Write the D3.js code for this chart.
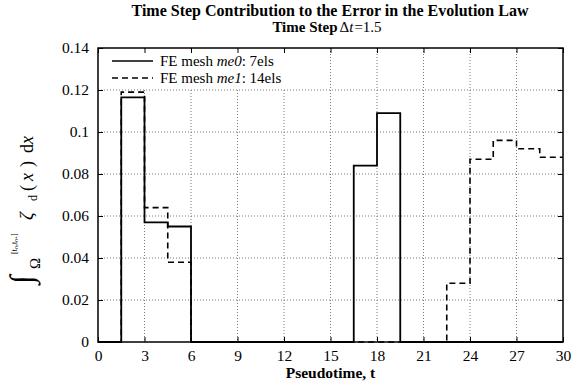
<!DOCTYPE html>
<html><head><meta charset="utf-8">
<script src="https://cdn.jsdelivr.net/npm/d3@7"></script>
<style>body{margin:0;background:#fff}svg{display:block}text{font-family:"Liberation Serif","Times New Roman",serif;fill:#000}</style>
</head><body>
<svg id="c" width="572" height="387"></svg>
<script>
const stepTimes = [0,1.5,3,4.5,6,7.5,9,10.5,12,13.5,15,16.5,18,19.5,21,22.5,24,25.5,27,28.5,30];
const me0 = [0,0.1165,0.057,0.055,0,0,0,0,0,0,0,0.084,0.109,0,0,0,0,0,0,0];
const me1 = [0,0.119,0.064,0.038,0,0,0,0,0,0,0,0,0,0,0,0.028,0.087,0.096,0.092,0.088];
const xTicks = [0,3,6,9,12,15,18,21,24,27,30];
const yTicks = [0,0.02,0.04,0.06,0.08,0.1,0.12,0.14];
const legendLabels = [["FE mesh ","me0",": 7els"],["FE mesh ","me1",": 14els"]];

const svg = d3.select("#c");
const L=98, R=563, T=48, B=342;
const x = d3.scaleLinear().domain([0,30]).range([L,R]);
const y = d3.scaleLinear().domain([0,0.14]).range([B,T]);

// grid
const g = svg.append("g");
g.selectAll(".gx").data(xTicks.slice(1,-1)).join("line")
 .attr("x1",d=>x(d)).attr("x2",d=>x(d)).attr("y1",T).attr("y2",B)
 .attr("stroke","#555").attr("stroke-width",0.8).attr("stroke-dasharray","1,2");
g.selectAll(".gy").data(yTicks.slice(1,-1)).join("line")
 .attr("x1",L).attr("x2",R).attr("y1",d=>y(d)).attr("y2",d=>y(d))
 .attr("stroke","#555").attr("stroke-width",0.8).attr("stroke-dasharray","1,2");

// legend background
svg.append("rect").attr("x",L+1).attr("y",T+1).attr("width",229).attr("height",39).attr("fill","#fff");

// series
function pts(vals){ const p = vals.map((v,i)=>[stepTimes[i],v]); p.push([30,vals[vals.length-1]]); return p; }
const line = d3.line().x(d=>x(d[0])).y(d=>y(d[1])).curve(d3.curveStepAfter);
svg.append("path").attr("d",line(pts(me1))).attr("fill","none").attr("stroke","#000").attr("stroke-width",1.6).attr("stroke-dasharray","6,4");
svg.append("path").attr("d",line(pts(me0))).attr("fill","none").attr("stroke","#000").attr("stroke-width",1.8);

// axes with inward ticks
const ax = svg.append("g");
const fs = "15.5px";
const xb = d3.axisBottom(x).tickValues(xTicks).tickSizeInner(-5).tickSizeOuter(0).tickPadding(8);
const gxB = ax.append("g").attr("transform",`translate(0,${B})`).call(xb);
gxB.select(".domain").remove();
gxB.selectAll("text").style("font-size",fs).style("font-family","Liberation Serif");
const xt = d3.axisTop(x).tickValues(xTicks).tickSizeInner(-5).tickSizeOuter(0).tickFormat("");
const gxT = ax.append("g").attr("transform",`translate(0,${T})`).call(xt);
gxT.select(".domain").remove();
const yl = d3.axisLeft(y).tickValues(yTicks).tickSizeInner(-5).tickSizeOuter(0).tickPadding(9).tickFormat(d=>d3.format("")(+d.toFixed(2)));
const gyL = ax.append("g").attr("transform",`translate(${L},0)`).call(yl);
gyL.select(".domain").remove();
gyL.selectAll("text").style("font-size",fs).style("font-family","Liberation Serif");
const yr = d3.axisRight(y).tickValues(yTicks).tickSizeInner(-5).tickSizeOuter(0).tickFormat("");
const gyR = ax.append("g").attr("transform",`translate(${R},0)`).call(yr);
gyR.select(".domain").remove();
ax.selectAll(".tick line").attr("stroke","#000");
svg.append("rect").attr("x",L).attr("y",T).attr("width",R-L).attr("height",B-T).attr("fill","none").attr("stroke","#000").attr("stroke-width",1.5);

// legend
const lg = svg.append("g");
legendLabels.forEach((lab,i)=>{
  const ly = [61,78][i];
  lg.append("line").attr("x1",112).attr("x2",153).attr("y1",ly).attr("y2",ly)
    .attr("stroke","#000").attr("stroke-width",1.6).attr("stroke-dasharray",i?"6,4":null);
  const t = lg.append("text").attr("x",160).attr("y",ly+5).style("font-size","15px");
  t.append("tspan").text(lab[0]);
  t.append("tspan").style("font-style","italic").text(lab[1]);
  t.append("tspan").text(lab[2]);
});

// title
const tt = svg.append("text").attr("x",330).attr("y",16).attr("text-anchor","middle").style("font-size","16px").style("font-weight","bold");
tt.text("Time Step Contribution to the Error in the Evolution Law");
const t2 = svg.append("text").attr("x",327).attr("y",32).attr("text-anchor","middle").style("font-size","15px");
t2.append("tspan").style("font-weight","bold").text("Time Step");
t2.append("tspan").attr("dx","2").text("Δ");
t2.append("tspan").style("font-style","italic").text("t");
t2.append("tspan").attr("dx","1").text("=1.5");

// x label
svg.append("text").attr("x",(L+R)/2).attr("y",378).attr("text-anchor","middle").style("font-size","15.5px").style("font-weight","bold").text("Pseudotime, t");

// y label (rotated; local x runs upward from y=284)
const yg = svg.append("g").attr("transform","translate(33,284) rotate(-90)");
const parts = [
  {t:"∫", x:0, y:-1, fs:32},
  {t:"Ω", x:15, y:7, fs:15},
  {t:"[tₙ,tₙ₊]", x:30, y:-16, fs:8},
  {t:"ζ", x:64, y:0, fs:19, it:1},
  {t:"d", x:83, y:4, fs:12},
  {t:"(", x:93, y:0, fs:18},
  {t:"x", x:103, y:0, fs:18, it:1},
  {t:")", x:117, y:0, fs:18},
  {t:"d", x:131, y:0, fs:18},
  {t:"x", x:140, y:0, fs:18, it:1}
];
yg.selectAll("text").data(parts).join("text")
  .attr("x",d=>d.x).attr("y",d=>d.y).style("font-size",d=>d.fs+"px")
  .style("font-style",d=>d.it?"italic":"normal").text(d=>d.t);
</script>
</body></html>
